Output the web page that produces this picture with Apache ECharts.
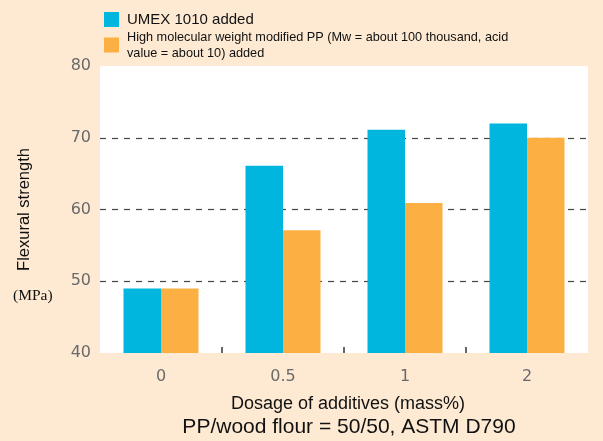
<!DOCTYPE html>
<html><head><meta charset="utf-8">
<script src="https://cdn.jsdelivr.net/npm/echarts@6/dist/echarts.min.js"></script>
<style>html,body{margin:0;padding:0;background:#FEEAD3}#c{width:603px;height:441px}</style>
</head><body><div id="c"></div>
<script>
const categories = ['0', '0.5', '1', '2'];
const umexValues = [49, 66.1, 71.1, 72.0];
const ppValues = [49, 57.1, 60.9, 70.0];
const seriesNames = ['UMEX 1010 added', 'High molecular weight modified PP (Mw = about 100 thousand, acid\nvalue = about 10) added'];
const yTicks = [40, 50, 60, 70, 80];
const separatorTicks = [1, 2, 3];

const chart = echarts.init(document.getElementById('c'), null, {renderer: 'canvas'});
const numFont = '"DejaVu Sans", sans-serif';
const sans = '"Liberation Sans", Arial, sans-serif';
chart.setOption({
  backgroundColor: '#FEEAD3',
  animation: false,
  grid: {left: 100, right: 15, top: 66, bottom: 88, show: true, backgroundColor: '#ffffff', borderWidth: 0},
  legend: {
    orient: 'vertical', left: 99, top: 7, itemWidth: 15, itemHeight: 15, itemGap: 2,
    icon: 'rect',
    data: [
      {name: seriesNames[0], textStyle: {fontSize: 15, color: '#111', fontFamily: sans, padding: [0, 0, 0, 3]}},
      {name: seriesNames[1], textStyle: {fontSize: 12.7, color: '#111', lineHeight: 16, fontFamily: sans, padding: [0, 0, 0, 3]}}
    ]
  },
  xAxis: [{
    type: 'category', data: categories,
    axisLine: {show: false},
    axisTick: {show: false},
    axisLabel: {fontSize: 16, color: '#6a6a6a', margin: 16, fontFamily: numFont},
    name: 'Dosage of additives (mass%)', nameLocation: 'middle', nameGap: 42,
    nameTextStyle: {fontSize: 18, color: '#111', fontFamily: sans, padding: [0, 0, 0, 8]}
  }, {
    type: 'value', position: 'bottom', min: 0, max: categories.length, interval: 1,
    axisLine: {show: false}, axisLabel: {show: false}, splitLine: {show: false},
    axisTick: {show: true, inside: true, length: 6, customValues: separatorTicks, lineStyle: {color: '#333', width: 1.5}}
  }],
  yAxis: {
    type: 'value', min: yTicks[0], max: yTicks[yTicks.length - 1], interval: 10,
    axisLine: {show: false}, axisTick: {show: false},
    axisLabel: {fontSize: 16, color: '#6a6a6a', margin: 9, fontFamily: numFont},
    splitLine: {show: true, showMinLine: false, showMaxLine: false, lineStyle: {color: '#444', type: [6, 6], width: 1.2}},
    name: 'Flexural strength', nameLocation: 'middle', nameRotate: 90, nameGap: 67,
    nameTextStyle: {fontSize: 16.5, color: '#111', fontFamily: sans}
  },
  series: [
    {name: seriesNames[0], type: 'bar', data: umexValues, barGap: '0%', barCategoryGap: '38.5%',
      itemStyle: {color: '#00B6DE'}},
    {name: seriesNames[1], type: 'bar', data: ppValues,
      itemStyle: {color: '#FCB043'}}
  ],
  graphic: [
    {type: 'text', left: 13, top: 288, style: {text: '(MPa)', fontSize: 15.5, fill: '#111', fontFamily: '"Liberation Serif", "Times New Roman", serif'}},
    {type: 'text', x: 349, y: 427, style: {text: 'PP/wood flour = 50/50, ASTM D790', fontSize: 21, fill: '#111', align: 'center', verticalAlign: 'middle', fontFamily: sans}}
  ]
});
</script></body></html>
